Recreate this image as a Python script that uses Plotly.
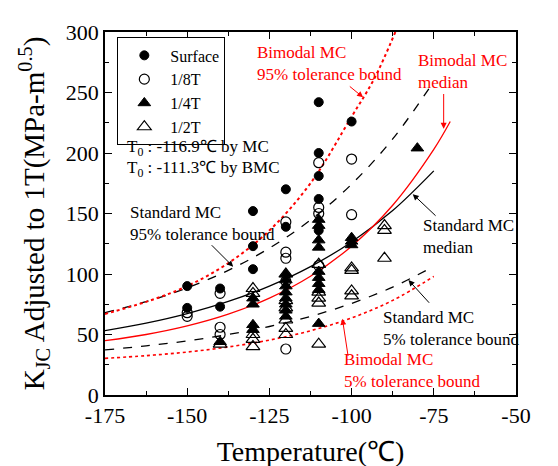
import plotly.graph_objects as go

# ---------------- data ----------------
surface_T = [-150, -150, -140, -140, -130, -130, -130, -120, -120, -110, -110, -110, -110, -110, -100]
surface_K = [90, 72, 88, 73, 152, 123, 104, 170, 139, 242, 200, 181, 162, 136, 226]

eighth_T = [-150, -150, -140, -140, -140, -120, -120, -120, -120, -120, -110, -110, -110, -110, -100, -100]
eighth_K = [68, 65, 84, 56, 50, 143, 118, 113, 94, 38, 192, 155, 150, 107, 195, 149]

quarter_T = [-140, -130, -130, -130, -130, -120, -120, -120, -120, -120, -120, -120, -120,
             -110, -110, -110, -110, -110, -110, -110, -110, -110, -100, -100, -100, -80]
quarter_K = [44, 80, 75, 58, 54, 100, 95, 90, 85, 80, 75, 70, 65,
             145, 140, 128, 122, 102, 97, 92, 87, 59, 130, 127, 124, 204]

half_T = [-140, -130, -130, -130, -130, -130, -120, -120, -120, -120, -120, -120,
          -110, -110, -110, -110, -110, -100, -100, -100, -100, -90, -90, -90]
half_K = [42, 88, 84, 50, 46, 40, 100, 78, 72, 62, 55, 50,
          108, 85, 80, 76, 42, 105, 103, 86, 82, 140, 136, 113]

# curves
curve_T = [-175, -162.5, -150, -137.5, -125, -112.5, -100, -87.5, -75]
std_med = [53.2, 59.4, 67.3, 77.3, 90.0, 106.1, 126.5, 152.4, 185.2]
std_05 = [37.3, 40.6, 44.7, 50.0, 56.6, 65.0, 75.7, 89.2, 106.3]
std_95 = [68.1, 77.1, 88.5, 103.0, 121.4, 144.6, 174.2, 211.6, 259.1]

bmc_med_T = [-175, -162.5, -150, -137.5, -125, -112.5, -100, -87.5, -75, -70]
bmc_med = [44.9, 50.0, 57.1, 66.8, 80.1, 98.2, 123.0, 156.8, 203.0, 226.0]
bmc_05 = [30.3, 32.5, 35.5, 39.7, 45.4, 53.1, 63.7, 78.2, 98.0]
bmc_95_T = [-175, -162.5, -150, -137.5, -125, -112.5, -100, -93, -86.7]
bmc_95 = [67.0, 77.0, 90.0, 109.0, 136.0, 175.0, 230.0, 262.0, 300.0]

x_ticks = [-175, -150, -125, -100, -75, -50]
y_ticks = [0, 50, 100, 150, 200, 250, 300]

FONT = "Liberation Serif"
RED = "#ff0000"

fig = go.Figure()

# curves
fig.add_trace(go.Scatter(x=curve_T, y=std_med, mode="lines", line=dict(color="black", width=1.3, shape="spline"), showlegend=False))
fig.add_trace(go.Scatter(x=curve_T, y=std_05, mode="lines", line=dict(color="black", width=1.3, dash="dash", shape="spline"), showlegend=False))
fig.add_trace(go.Scatter(x=curve_T, y=std_95, mode="lines", line=dict(color="black", width=1.3, dash="dash", shape="spline"), showlegend=False))
fig.add_trace(go.Scatter(x=bmc_med_T, y=bmc_med, mode="lines", line=dict(color=RED, width=1.3, shape="spline"), showlegend=False))
fig.add_trace(go.Scatter(x=curve_T, y=bmc_05, mode="lines", line=dict(color=RED, width=1.6, dash="dot", shape="spline"), showlegend=False))
fig.add_trace(go.Scatter(x=bmc_95_T, y=bmc_95, mode="lines", line=dict(color=RED, width=2, dash="dot", shape="spline"), showlegend=False))

# data points
fig.add_trace(go.Scatter(x=surface_T, y=surface_K, mode="markers", name="Surface",
                         marker=dict(symbol="circle", size=9, color="black", line=dict(color="black", width=1))))
fig.add_trace(go.Scatter(x=eighth_T, y=eighth_K, mode="markers", name="1/8T",
                         marker=dict(symbol="circle-open", size=10, color="black", line=dict(color="black", width=1.2))))
fig.add_trace(go.Scatter(x=quarter_T, y=quarter_K, mode="markers", name="1/4T",
                         marker=dict(symbol="triangle-up", size=11, color="black", line=dict(color="black", width=1))))
fig.add_trace(go.Scatter(x=half_T, y=half_K, mode="markers", name="1/2T",
                         marker=dict(symbol="triangle-up-open", size=12, color="black", line=dict(color="black", width=1.2))))

ann = []
def txt(x, y, s, color="black", size=17, align="left", xanchor="left"):
    ann.append(dict(x=x, y=y, xref="x", yref="y", text=s, showarrow=False,
                    font=dict(family=FONT, size=size, color=color), align=align,
                    xanchor=xanchor, yanchor="middle"))

def arrow(x0, y0, x1, y1, color="black"):
    ann.append(dict(x=x1, y=y1, ax=x0, ay=y0, xref="x", yref="y", axref="x", ayref="y",
                    text="", showarrow=True, arrowhead=2, arrowsize=1.2, arrowwidth=1,
                    arrowcolor=color))

txt(-169, 204, "T<sub>0</sub> : -116.9\u2103 by MC")
txt(-169, 187, "T<sub>0</sub> : -111.3\u2103 by BMC")
txt(-168, 142, "Standard MC<br>95% tolerance bound", align="left")
arrow(-143, 125, -136, 106)
txt(-129.5, 274, "Bimodal MC<br>95% tolerance bound", color=RED, align="left")
arrow(-101, 256, -96.5, 246, color=RED)
txt(-80.5, 267, "Bimodal MC<br>median", color=RED, align="left")
arrow(-72, 250, -72, 220, color=RED)
txt(-79, 131, "Standard MC<br>median", align="left")
arrow(-74, 147, -81.4, 166)
txt(-91, 55, "Standard MC<br>5% tolerance bound", align="left")
arrow(-76, 75, -82.7, 95)
txt(-103, 20, "Bimodal MC<br>5% tolerance bound", color=RED, align="left")
arrow(-101, 31, -102.8, 63, color=RED)

# cropped title at the very top
ann.append(dict(x=0.406, y=1.0, xref="paper", yref="paper", text="1/2T and 1/4T", showarrow=False,
                yshift=20, font=dict(family=FONT, size=22, color="black"), xanchor="center", yanchor="bottom"))

axis_common = dict(showline=True, linecolor="black", linewidth=1.5, mirror="ticks",
                   ticks="inside", ticklen=7, tickwidth=1, tickcolor="black",
                   showgrid=False, zeroline=False,
                   tickfont=dict(family=FONT, size=22, color="black"))

fig.update_layout(
    width=558, height=466,
    margin=dict(l=97, r=50, t=24, b=74),
    paper_bgcolor="white", plot_bgcolor="white",
    font=dict(family=FONT, color="black"),
    xaxis=dict(range=[-175, -50], tickvals=x_ticks, ticktext=[str(v) for v in x_ticks],
               minor=dict(ticks="inside", ticklen=4, dtick=12.5, tickcolor="black"),
               title=dict(text="Temperature(\u2103)", font=dict(family=FONT, size=28), standoff=14),
               **axis_common),
    yaxis=dict(range=[0, 300], tickvals=y_ticks, ticktext=[str(v) for v in y_ticks],
               minor=dict(ticks="inside", ticklen=4, dtick=25, tickcolor="black"),
               title=dict(text="K<sub>JC</sub> Adjusted to 1T(MPa-m<sup>0.5</sup>)", font=dict(family=FONT, size=29), standoff=13),
               **axis_common),
    legend=dict(x=0.03, y=0.985, xanchor="left", yanchor="top",
                bordercolor="black", borderwidth=1, bgcolor="white",
                font=dict(family=FONT, size=16), itemwidth=42, tracegroupgap=0),
    annotations=ann,
)

fig.write_html("out.html")
